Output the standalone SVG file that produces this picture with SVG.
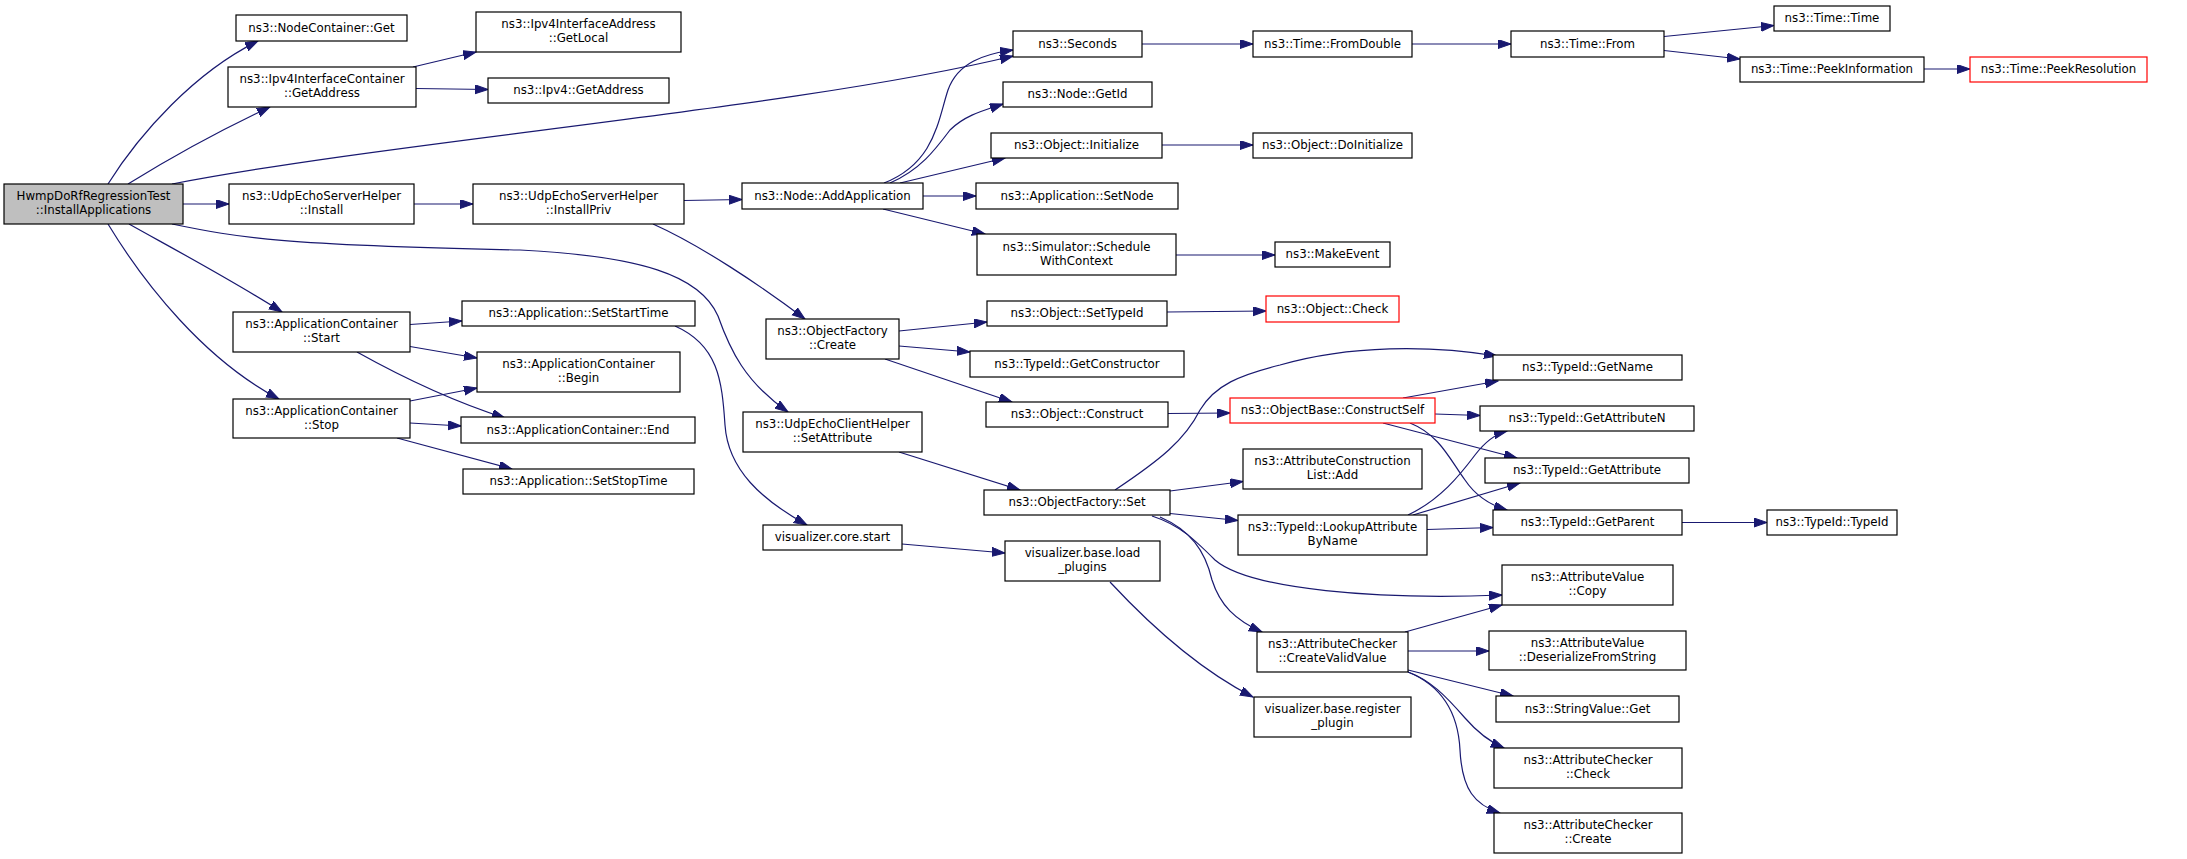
<svg xmlns="http://www.w3.org/2000/svg" width="2187" height="859" viewBox="0 0 2187 859">
<style>
.n rect{fill:#fff;stroke:#000;stroke-width:1.2}
.n.red rect{stroke:#ff0000}
.n.root rect{fill:#bfbfbf}
.n text{font-family:"DejaVu Sans","Liberation Sans",sans-serif;font-size:11.8px;text-anchor:middle;fill:#000}
#edges path{fill:none;stroke:#191970;stroke-width:1.2;marker-end:url(#a)}
</style>
<defs>
<marker id="a" markerUnits="userSpaceOnUse" markerWidth="14" markerHeight="10" viewBox="0 0 14 10" refX="13" refY="4.5" orient="auto">
<path d="M0,0 L13,4.5 L0,9 z" fill="#191970" stroke="#191970" stroke-width="1"/>
</marker>
</defs>
<rect width="2187" height="859" fill="#fff"/>
<g id="edges">
<path d="M108,184 C140,133 195,72 258,41"/>
<path d="M128,184 C170,158 225,128 270,107"/>
<path d="M172,184 C400,140 800,108 1013,56"/>
<path d="M183,204 L229,204"/>
<path d="M172,224 C240,238 280,245 520,250 C640,256 700,275 718,316 C730,350 745,382 788,412"/>
<path d="M129,224 C170,247 232,280 282,312"/>
<path d="M108,224 C145,285 205,360 279,399"/>
<path d="M413,67 L476,52"/>
<path d="M416,88.5 L488,89.5"/>
<path d="M414,204 L473,204"/>
<path d="M410,324.5 L462,321"/>
<path d="M410,346.5 L477,358"/>
<path d="M357,352 C400,376 455,402 505,418"/>
<path d="M410,401 L477,388"/>
<path d="M410,423 L461,426"/>
<path d="M397,438 L512,469"/>
<path d="M684,200.5 L742,199.5"/>
<path d="M653,224 C700,245 760,285 805,319"/>
<path d="M675,326 C718,345 722,380 725,425 C728,470 762,500 807,525"/>
<path d="M884,183 C935,163 938,120 948,90 C958,62 985,54 1013,50"/>
<path d="M890,183 C920,170 935,150 950,130 C965,115 985,110 1003,104"/>
<path d="M900,183 L1005,158"/>
<path d="M923,196 L976,196"/>
<path d="M883,209 L985,234"/>
<path d="M1142,44 L1253,44"/>
<path d="M1412,44 L1511,44"/>
<path d="M1664,36.5 L1774,25.5"/>
<path d="M1664,50.5 L1740,59"/>
<path d="M1924,69 L1970,69"/>
<path d="M1162,145 L1253,145"/>
<path d="M1176,255 L1275,255"/>
<path d="M899,331 L987,322"/>
<path d="M899,346 L970,352"/>
<path d="M885,359 L1012,402"/>
<path d="M1167,312 L1266,311"/>
<path d="M1168,413.5 L1230,413"/>
<path d="M899,452 L1020,490"/>
<path d="M902,544 L1005,553"/>
<path d="M1110,582 C1150,625 1200,670 1253,697"/>
<path d="M1115,490 C1160,460 1185,440 1200,410 C1215,385 1240,375 1280,365 C1350,345 1430,345 1497,356"/>
<path d="M1170,491 L1243,481.5"/>
<path d="M1170,513.5 L1238,520.5"/>
<path d="M1152,516 C1180,525 1195,540 1215,560 C1250,590 1380,600 1502,595"/>
<path d="M1160,517 C1190,530 1205,550 1212,580 C1220,605 1235,620 1262,632"/>
<path d="M1403,398 L1498,381"/>
<path d="M1435,414 L1480,415.5"/>
<path d="M1383,423 L1517,458"/>
<path d="M1410,423 C1440,435 1450,460 1465,480 C1475,495 1490,505 1507,510"/>
<path d="M1408,515 C1440,500 1460,475 1475,455 C1485,442 1495,434 1507,431"/>
<path d="M1413,515 L1520,483"/>
<path d="M1427,529.5 L1493,527.5"/>
<path d="M1405,632 L1502,605"/>
<path d="M1408,651 L1489,651"/>
<path d="M1408,670 L1513,696"/>
<path d="M1408,672 C1430,680 1445,695 1465,718 C1478,733 1490,742 1504,748"/>
<path d="M1408,672 C1440,685 1458,710 1460,750 C1462,790 1475,805 1500,813"/>
<path d="M1682,522.5 L1767,522.5"/>
</g>
<g id="n0" class="n root"><rect x="4" y="184" width="179" height="40"/><text x="93.5" y="200">HwmpDoRfRegressionTest</text><text x="93.5" y="214">::InstallApplications</text></g>
<g id="n1" class="n"><rect x="236" y="15" width="171" height="26"/><text x="321.5" y="31.5">ns3::NodeContainer::Get</text></g>
<g id="n2" class="n"><rect x="228" y="67" width="188" height="40"/><text x="322" y="83">ns3::Ipv4InterfaceContainer</text><text x="322" y="97">::GetAddress</text></g>
<g id="n3" class="n"><rect x="229" y="184" width="185" height="40"/><text x="321.5" y="200">ns3::UdpEchoServerHelper</text><text x="321.5" y="214">::Install</text></g>
<g id="n4" class="n"><rect x="233" y="312" width="177" height="40"/><text x="321.5" y="328">ns3::ApplicationContainer</text><text x="321.5" y="342">::Start</text></g>
<g id="n5" class="n"><rect x="233" y="399" width="177" height="39"/><text x="321.5" y="414.5">ns3::ApplicationContainer</text><text x="321.5" y="428.5">::Stop</text></g>
<g id="n6" class="n"><rect x="476" y="12" width="205" height="40"/><text x="578.5" y="28">ns3::Ipv4InterfaceAddress</text><text x="578.5" y="42">::GetLocal</text></g>
<g id="n7" class="n"><rect x="488" y="78" width="181" height="25"/><text x="578.5" y="94">ns3::Ipv4::GetAddress</text></g>
<g id="n8" class="n"><rect x="473" y="184" width="211" height="40"/><text x="578.5" y="200">ns3::UdpEchoServerHelper</text><text x="578.5" y="214">::InstallPriv</text></g>
<g id="n9" class="n"><rect x="462" y="301" width="233" height="25"/><text x="578.5" y="317">ns3::Application::SetStartTime</text></g>
<g id="n10" class="n"><rect x="477" y="352" width="203" height="40"/><text x="578.5" y="368">ns3::ApplicationContainer</text><text x="578.5" y="382">::Begin</text></g>
<g id="n11" class="n"><rect x="461" y="417" width="234" height="26"/><text x="578" y="433.5">ns3::ApplicationContainer::End</text></g>
<g id="n12" class="n"><rect x="463" y="469" width="231" height="25"/><text x="578.5" y="485">ns3::Application::SetStopTime</text></g>
<g id="n13" class="n"><rect x="742" y="183" width="181" height="26"/><text x="832.5" y="199.5">ns3::Node::AddApplication</text></g>
<g id="n14" class="n"><rect x="766" y="319" width="133" height="40"/><text x="832.5" y="335">ns3::ObjectFactory</text><text x="832.5" y="349">::Create</text></g>
<g id="n15" class="n"><rect x="743" y="412" width="179" height="40"/><text x="832.5" y="428">ns3::UdpEchoClientHelper</text><text x="832.5" y="442">::SetAttribute</text></g>
<g id="n16" class="n"><rect x="763" y="525" width="139" height="25"/><text x="832.5" y="541">visualizer.core.start</text></g>
<g id="n17" class="n"><rect x="1013" y="31" width="129" height="26"/><text x="1077.5" y="47.5">ns3::Seconds</text></g>
<g id="n18" class="n"><rect x="1003" y="82" width="149" height="25"/><text x="1077.5" y="98">ns3::Node::GetId</text></g>
<g id="n19" class="n"><rect x="991" y="133" width="171" height="25"/><text x="1076.5" y="149">ns3::Object::Initialize</text></g>
<g id="n20" class="n"><rect x="976" y="183" width="202" height="26"/><text x="1077" y="199.5">ns3::Application::SetNode</text></g>
<g id="n21" class="n"><rect x="977" y="234" width="199" height="41"/><text x="1076.5" y="250.5">ns3::Simulator::Schedule</text><text x="1076.5" y="264.5">WithContext</text></g>
<g id="n22" class="n"><rect x="987" y="301" width="180" height="25"/><text x="1077" y="317">ns3::Object::SetTypeId</text></g>
<g id="n23" class="n"><rect x="970" y="351" width="214" height="26"/><text x="1077" y="367.5">ns3::TypeId::GetConstructor</text></g>
<g id="n24" class="n"><rect x="986" y="402" width="182" height="25"/><text x="1077" y="418">ns3::Object::Construct</text></g>
<g id="n25" class="n"><rect x="984" y="490" width="186" height="25"/><text x="1077" y="506">ns3::ObjectFactory::Set</text></g>
<g id="n26" class="n"><rect x="1005" y="541" width="155" height="40"/><text x="1082.5" y="557">visualizer.base.load</text><text x="1082.5" y="571">_plugins</text></g>
<g id="n27" class="n"><rect x="1253" y="31" width="159" height="26"/><text x="1332.5" y="47.5">ns3::Time::FromDouble</text></g>
<g id="n28" class="n"><rect x="1253" y="133" width="159" height="25"/><text x="1332.5" y="149">ns3::Object::DoInitialize</text></g>
<g id="n29" class="n"><rect x="1275" y="242" width="115" height="25"/><text x="1332.5" y="258">ns3::MakeEvent</text></g>
<g id="n30" class="n red"><rect x="1266" y="296" width="133" height="26"/><text x="1332.5" y="312.5">ns3::Object::Check</text></g>
<g id="n31" class="n red"><rect x="1230" y="398" width="205" height="25"/><text x="1332.5" y="414">ns3::ObjectBase::ConstructSelf</text></g>
<g id="n32" class="n"><rect x="1243" y="449" width="179" height="40"/><text x="1332.5" y="465">ns3::AttributeConstruction</text><text x="1332.5" y="479">List::Add</text></g>
<g id="n33" class="n"><rect x="1238" y="515" width="189" height="40"/><text x="1332.5" y="531">ns3::TypeId::LookupAttribute</text><text x="1332.5" y="545">ByName</text></g>
<g id="n34" class="n"><rect x="1257" y="632" width="151" height="40"/><text x="1332.5" y="648">ns3::AttributeChecker</text><text x="1332.5" y="662">::CreateValidValue</text></g>
<g id="n35" class="n"><rect x="1254" y="697" width="157" height="40"/><text x="1332.5" y="713">visualizer.base.register</text><text x="1332.5" y="727">_plugin</text></g>
<g id="n36" class="n"><rect x="1511" y="31" width="153" height="26"/><text x="1587.5" y="47.5">ns3::Time::From</text></g>
<g id="n37" class="n"><rect x="1493" y="355" width="189" height="25"/><text x="1587.5" y="371">ns3::TypeId::GetName</text></g>
<g id="n38" class="n"><rect x="1480" y="406" width="214" height="25"/><text x="1587" y="422">ns3::TypeId::GetAttributeN</text></g>
<g id="n39" class="n"><rect x="1485" y="458" width="204" height="25"/><text x="1587" y="474">ns3::TypeId::GetAttribute</text></g>
<g id="n40" class="n"><rect x="1493" y="510" width="189" height="25"/><text x="1587.5" y="526">ns3::TypeId::GetParent</text></g>
<g id="n41" class="n"><rect x="1502" y="565" width="171" height="40"/><text x="1587.5" y="581">ns3::AttributeValue</text><text x="1587.5" y="595">::Copy</text></g>
<g id="n42" class="n"><rect x="1489" y="631" width="197" height="39"/><text x="1587.5" y="646.5">ns3::AttributeValue</text><text x="1587.5" y="660.5">::DeserializeFromString</text></g>
<g id="n43" class="n"><rect x="1496" y="696" width="183" height="26"/><text x="1587.5" y="712.5">ns3::StringValue::Get</text></g>
<g id="n44" class="n"><rect x="1494" y="748" width="188" height="40"/><text x="1588" y="764">ns3::AttributeChecker</text><text x="1588" y="778">::Check</text></g>
<g id="n45" class="n"><rect x="1494" y="813" width="188" height="40"/><text x="1588" y="829">ns3::AttributeChecker</text><text x="1588" y="843">::Create</text></g>
<g id="n46" class="n"><rect x="1774" y="6" width="116" height="25"/><text x="1832" y="22">ns3::Time::Time</text></g>
<g id="n47" class="n"><rect x="1740" y="57" width="184" height="25"/><text x="1832" y="73">ns3::Time::PeekInformation</text></g>
<g id="n48" class="n red"><rect x="1970" y="57" width="177" height="25"/><text x="2058.5" y="73">ns3::Time::PeekResolution</text></g>
<g id="n49" class="n"><rect x="1767" y="510" width="130" height="25"/><text x="1832" y="526">ns3::TypeId::TypeId</text></g>
</svg>
